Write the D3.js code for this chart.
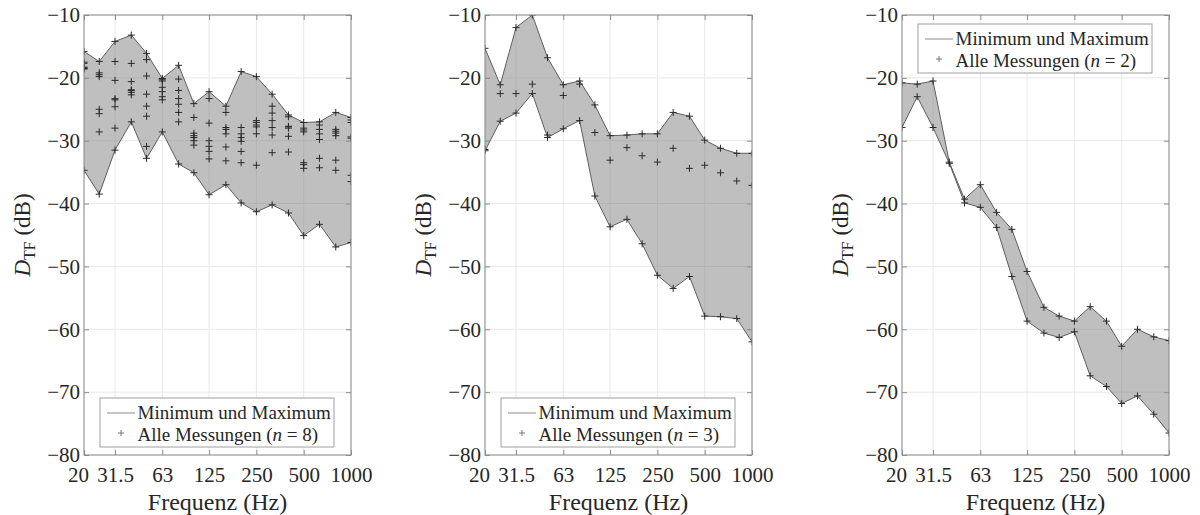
<!DOCTYPE html>
<html>
<head>
<meta charset="utf-8">
<script src="https://cdn.jsdelivr.net/npm/d3@7"></script>
<style>
  body { margin: 0; background: #fff; }
  svg, svg text { font-family: "Liberation Serif", "Times New Roman", "DejaVu Serif", serif; }
</style>
</head>
<body>
<div class="chart"></div>
<script>
// third-octave band centre frequencies (Hz)
var freqs = [20, 25, 31.5, 40, 50, 63, 80, 100, 125, 160, 200, 250, 315, 400, 500, 630, 800, 1000];
var xTickValues = [20, 31.5, 63, 125, 250, 500, 1000];
var yTickValues = [-80, -70, -60, -50, -40, -30, -20, -10];

// left panel, 8 measurements per band (dB)
var measA = [
  [-15.8, -17.5, -17.7, -18.3, -18.5, -18.6, -18.4, -34.7],
  [-17.4, -19.2, -19.5, -19.8, -25.0, -25.7, -28.6, -38.5],
  [-14.2, -17.4, -20.4, -23.3, -23.5, -24.6, -28.0, -31.5],
  [-13.2, -17.7, -20.6, -21.9, -22.0, -22.3, -22.7, -27.0],
  [-16.1, -17.1, -19.7, -22.6, -24.5, -26.1, -30.9, -32.8],
  [-20.1, -20.3, -20.5, -21.5, -22.2, -23.0, -23.5, -28.6],
  [-18.0, -20.2, -22.0, -23.3, -24.2, -25.5, -27.0, -33.7],
  [-24.1, -26.3, -28.8, -29.2, -29.5, -30.0, -30.7, -35.1],
  [-22.2, -23.3, -27.2, -30.0, -30.9, -31.7, -32.9, -38.6],
  [-24.5, -25.5, -27.9, -28.2, -28.9, -31.0, -33.2, -37.0],
  [-19.0, -27.9, -28.9, -29.5, -30.1, -31.7, -33.5, -39.9],
  [-19.8, -26.8, -27.1, -27.5, -27.8, -28.9, -33.9, -41.3],
  [-22.6, -24.5, -25.6, -26.8, -27.9, -29.1, -31.9, -40.2],
  [-25.9, -26.2, -27.7, -27.8, -28.0, -29.3, -31.8, -41.5],
  [-27.1, -28.0, -28.3, -28.6, -33.5, -33.8, -34.4, -45.1],
  [-27.0, -27.5, -28.2, -28.9, -29.8, -32.8, -34.3, -43.3],
  [-25.5, -28.2, -28.5, -28.8, -29.2, -33.1, -34.7, -46.9],
  [-26.3, -26.7, -27.1, -29.4, -29.6, -35.5, -36.5, -46.2]
];

// middle panel, 3 measurements per band (dB)
var measB = [
  [-15.3, -31.4, -31.6],
  [-21.1, -22.5, -26.9],
  [-12.0, -22.5, -25.6],
  [-10.0, -21.0, -22.5],
  [-16.8, -29.1, -29.5],
  [-21.1, -22.8, -28.1],
  [-20.5, -21.0, -26.8],
  [-24.3, -28.7, -38.8],
  [-29.2, -33.1, -43.7],
  [-29.1, -31.1, -42.5],
  [-28.9, -32.4, -46.4],
  [-28.9, -33.4, -51.4],
  [-25.5, -31.2, -53.5],
  [-26.1, -34.4, -51.6],
  [-29.9, -33.9, -57.9],
  [-31.2, -35.1, -58.0],
  [-32.0, -36.4, -58.3],
  [-32.0, -37.1, -62.0]
];

// right panel, 2 measurements per band (dB)
var measC = [
  [-20.8, -27.9],
  [-21.0, -23.0],
  [-20.5, -27.9],
  [-33.4, -33.6],
  [-39.3, -39.9],
  [-37.0, -40.6],
  [-41.4, -43.8],
  [-44.1, -51.6],
  [-50.8, -58.7],
  [-56.5, -60.6],
  [-57.9, -61.3],
  [-58.7, -60.4],
  [-56.4, -67.4],
  [-58.7, -69.1],
  [-62.7, -71.8],
  [-60.0, -70.6],
  [-61.2, -73.5],
  [-61.8, -76.5]
];

var nCounts = [8, 3, 2];
var legendLine = "Minimum und Maximum";
var legendMarks = "Alle Messungen";

var svgWidth = 1200;
var svgHeight = 515;
var serif = "'Liberation Serif', 'Times New Roman', 'DejaVu Serif', serif";

var svg = d3.select(".chart")
  .append("svg")
  .attr("width", svgWidth)
  .attr("height", svgHeight)
  .attr("font-family", serif);

var plotTop = 15;
var plotBottom = 455;

var panels = [
  { left: 84, right: 351, data: measA, n: nCounts[0], legendTop: 398 },
  { left: 485, right: 752, data: measB, n: nCounts[1], legendTop: 398 },
  { left: 902, right: 1169, data: measC, n: nCounts[2], legendTop: 24 }
];

var axisColor = "#8c8c8c";
var gridColor = "#e8e8e8";
var textColor = "#262626";
var crossPath = "M-3.5,0H3.5M0,-3.5V3.5";

function drawPanel(p, i) {
  var x = d3.scaleLog().domain([20, 1000]).range([p.left, p.right]);
  var y = d3.scaleLinear().domain([-80, -10]).range([plotBottom, plotTop]);

  var g = svg.append("g");

  // grid
  g.append("g").selectAll("line")
    .data(xTickValues)
    .enter()
    .append("line")
    .attr("x1", d => x(d)).attr("x2", d => x(d))
    .attr("y1", plotTop).attr("y2", plotBottom)
    .attr("stroke", gridColor);
  g.append("g").selectAll("line")
    .data(yTickValues)
    .enter()
    .append("line")
    .attr("x1", p.left).attr("x2", p.right)
    .attr("y1", d => y(d)).attr("y2", d => y(d))
    .attr("stroke", gridColor);

  // clip to the axes box
  g.append("clipPath")
    .attr("id", "clip" + i)
    .append("rect")
    .attr("x", p.left).attr("y", plotTop)
    .attr("width", p.right - p.left).attr("height", plotBottom - plotTop);

  var plot = g.append("g").attr("clip-path", "url(#clip" + i + ")");

  var rows = p.data.map(function(vals, k) {
    return { f: freqs[k], lo: d3.min(vals), hi: d3.max(vals), vals: vals };
  });

  var area = d3.area()
    .x(d => x(d.f))
    .y0(d => y(d.lo))
    .y1(d => y(d.hi));

  plot.append("path")
    .datum(rows)
    .attr("d", area)
    .attr("fill", "#808080")
    .attr("fill-opacity", 0.5);

  var lineHi = d3.line().x(d => x(d.f)).y(d => y(d.hi));
  var lineLo = d3.line().x(d => x(d.f)).y(d => y(d.lo));

  plot.append("path").datum(rows).attr("d", lineHi)
    .attr("fill", "none").attr("stroke", "#5e5e5e").attr("stroke-width", 1);
  plot.append("path").datum(rows).attr("d", lineLo)
    .attr("fill", "none").attr("stroke", "#5e5e5e").attr("stroke-width", 1);

  // every single measurement
  var pts = [];
  rows.forEach(function(r) {
    r.vals.forEach(function(v) { pts.push({ f: r.f, v: v }); });
  });

  plot.selectAll(".mark")
    .data(pts)
    .enter()
    .append("path")
    .attr("class", "mark")
    .attr("transform", d => `translate(${x(d.f)},${y(d.v)})`)
    .attr("d", crossPath)
    .attr("fill", "none")
    .attr("stroke", "#2a2a2a")
    .attr("stroke-width", 1);

  // axes (ticks pointing inwards)
  var xAxis = d3.axisBottom(x)
    .tickValues(xTickValues)
    .tickFormat(d => d)
    .tickSizeInner(-5)
    .tickSizeOuter(0)
    .tickPadding(12);
  var yAxis = d3.axisLeft(y)
    .tickValues(yTickValues)
    .tickFormat(d3.format("d"))
    .tickSizeInner(-5)
    .tickSizeOuter(0)
    .tickPadding(4);

  var gx = g.append("g")
    .attr("transform", `translate(0, ${plotBottom})`)
    .call(xAxis);
  var gy = g.append("g")
    .attr("transform", `translate(${p.left}, 0)`)
    .call(yAxis);
  var gTop = g.append("g")
    .attr("transform", `translate(0, ${plotTop})`)
    .call(d3.axisTop(x).tickValues(xTickValues).tickFormat("").tickSizeInner(-5).tickSizeOuter(0));
  var gRight = g.append("g")
    .attr("transform", `translate(${p.right}, 0)`)
    .call(d3.axisRight(y).tickValues(yTickValues).tickFormat("").tickSizeInner(-5).tickSizeOuter(0));

  [gx, gy, gTop, gRight].forEach(function(a) {
    a.select(".domain").remove();
    a.selectAll(".tick line").attr("stroke", axisColor);
    a.attr("font-family", serif).attr("font-size", 21);
    a.selectAll("text")
      .attr("font-family", serif)
      .attr("font-size", 21)
      .attr("fill", textColor);
  });

  // first frequency label sits a bit left of its tick
  gx.selectAll(".tick text").filter(d => d === 20).attr("dx", -6);

  // axes box
  g.append("rect")
    .attr("x", p.left).attr("y", plotTop)
    .attr("width", p.right - p.left).attr("height", plotBottom - plotTop)
    .attr("fill", "none")
    .attr("stroke", axisColor)
    .attr("stroke-width", 1);

  // axis labels
  g.append("text")
    .attr("x", (p.left + p.right) / 2)
    .attr("y", 510)
    .attr("text-anchor", "middle")
    .attr("font-family", serif)
    .attr("font-size", 24)
    .attr("fill", textColor)
    .text("Frequenz (Hz)");

  var yl = g.append("text")
    .attr("transform", `translate(${p.left - 54}, ${(plotTop + plotBottom) / 2}) rotate(-90)`)
    .attr("text-anchor", "middle")
    .attr("font-family", serif)
    .attr("font-size", 23)
    .attr("fill", textColor);
  yl.append("tspan").attr("font-style", "italic").text("D");
  yl.append("tspan").attr("font-size", 16).attr("dy", 5).text("TF");
  yl.append("tspan").attr("dy", -5).text(" (dB)");

  // legend
  var lx = p.left + 16;
  var ly = p.legendTop;
  var lg = g.append("g").attr("transform", `translate(${lx}, ${ly})`);

  lg.append("rect")
    .attr("width", 234).attr("height", 49)
    .attr("fill", "#fff")
    .attr("stroke", "#a0a0a0")
    .attr("stroke-width", 1);

  lg.append("line")
    .attr("x1", 7).attr("x2", 35)
    .attr("y1", 15).attr("y2", 15)
    .attr("stroke", "#8a8a8a");
  lg.append("text")
    .attr("x", 37.5).attr("y", 20.5)
    .attr("font-family", serif)
    .attr("font-size", 19)
    .attr("fill", textColor)
    .text(legendLine);

  lg.append("path")
    .attr("transform", "translate(21, 35)")
    .attr("d", "M-3,0H3M0,-3V3")
    .attr("fill", "none")
    .attr("stroke", "#777");
  var t2 = lg.append("text")
    .attr("x", 37.5).attr("y", 43)
    .attr("font-family", serif)
    .attr("font-size", 19)
    .attr("fill", textColor);
  t2.append("tspan").text(legendMarks + " (");
  t2.append("tspan").attr("font-style", "italic").text("n");
  t2.append("tspan").text(" = " + p.n + ")");
}

panels.forEach(drawPanel);
</script>
</body>
</html>
